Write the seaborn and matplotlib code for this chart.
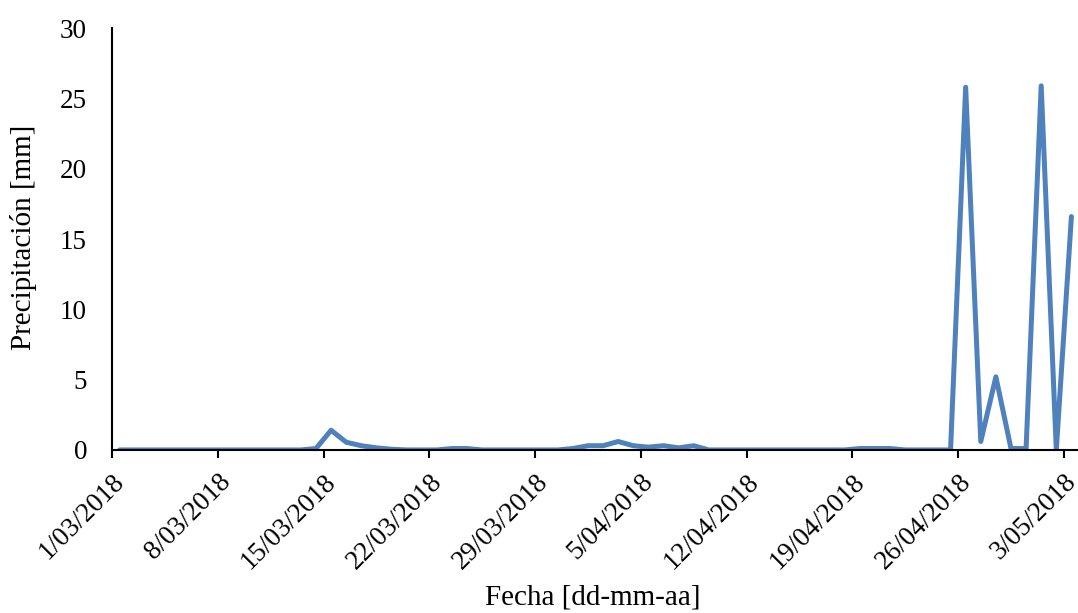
import matplotlib
matplotlib.use("Agg")
import matplotlib.pyplot as plt
import seaborn as sns
import pandas as pd
import numpy as np

# ---- data ----
start_date = "2018-03-01"
precip_mm = [
    0, 0, 0, 0, 0, 0, 0, 0, 0, 0,          # 1/03 - 10/03
    0, 0, 0, 0.1, 1.4, 0.55, 0.3, 0.15, 0.05, 0,   # 11/03 - 20/03
    0, 0, 0.1, 0.1, 0, 0, 0, 0, 0, 0,      # 21/03 - 30/03
    0.1, 0.3, 0.3, 0.6, 0.3, 0.2, 0.3, 0.15, 0.3, 0,  # 31/03 - 9/04
    0, 0, 0, 0, 0, 0, 0, 0, 0, 0.1,        # 10/04 - 19/04
    0.1, 0.1, 0, 0, 0, 0, 25.8, 0.6, 5.2, 0.1,  # 20/04 - 29/04
    0.1, 25.9, 0, 16.6,                    # 30/04 - 3/05
]
tick_dates = ["2018-03-01", "2018-03-08", "2018-03-15", "2018-03-22",
              "2018-03-29", "2018-04-05", "2018-04-12", "2018-04-19",
              "2018-04-26", "2018-05-03"]
y_ticks = [0, 5, 10, 15, 20, 25, 30]
x_label = "Fecha [dd-mm-aa]"
y_label = "Precipitación [mm]"

fechas = pd.date_range(start_date, periods=len(precip_mm), freq="D")
df = pd.DataFrame({"fecha": fechas, "precip": precip_mm})
# points sit in the middle of each day (Excel date axis, between tick marks)
df["x"] = df["fecha"] + pd.Timedelta(hours=12)

sns.set_theme(style="white")
plt.rcParams["font.family"] = ["Liberation Serif", "DejaVu Serif"]
plt.rcParams["text.color"] = "black"
plt.rcParams["axes.labelcolor"] = "black"
plt.rcParams["xtick.color"] = "black"
plt.rcParams["ytick.color"] = "black"

FS = 19.5
FS_LAB = 21
fig = plt.figure(figsize=(10.78, 6.13), dpi=100)
ax = fig.add_axes([0.1039, 0.266, 0.897, 0.688])

sns.lineplot(data=df, x="x", y="precip", ax=ax, color="#4F81BD",
             linewidth=3.6, solid_joinstyle="round", solid_capstyle="round")

tks = pd.to_datetime(tick_dates)
ax.set_xticks(tks)
ax.set_xticklabels([f"{d.day}/{d.month:02d}/{d.year}" for d in tks],
                   rotation=45, ha="right", va="top",
                   rotation_mode="anchor", fontsize=FS)

ax.set_xlim(fechas[0], fechas[-1] + pd.Timedelta(days=1))
ax.set_ylim(0, 30)
ax.set_yticks(y_ticks)
ax.set_yticklabels([str(v) for v in y_ticks], fontsize=FS)

ax.tick_params(axis="x", which="both", direction="out", length=6, width=1.5,
               color="black", pad=8, bottom=True)
ax.tick_params(axis="y", length=0, pad=18)

for s in ["top", "right"]:
    ax.spines[s].set_visible(False)
for s in ["left", "bottom"]:
    ax.spines[s].set_color("black")
    ax.spines[s].set_linewidth(1.5)

ax.set_xlabel(x_label, fontsize=FS_LAB)
ax.set_ylabel(y_label, fontsize=FS_LAB)
ax.xaxis.set_label_coords(0.497, -0.32)
ax.yaxis.set_label_coords(-0.078, 0.505)
ax.grid(False)

fig.savefig("out.png", dpi=100)
